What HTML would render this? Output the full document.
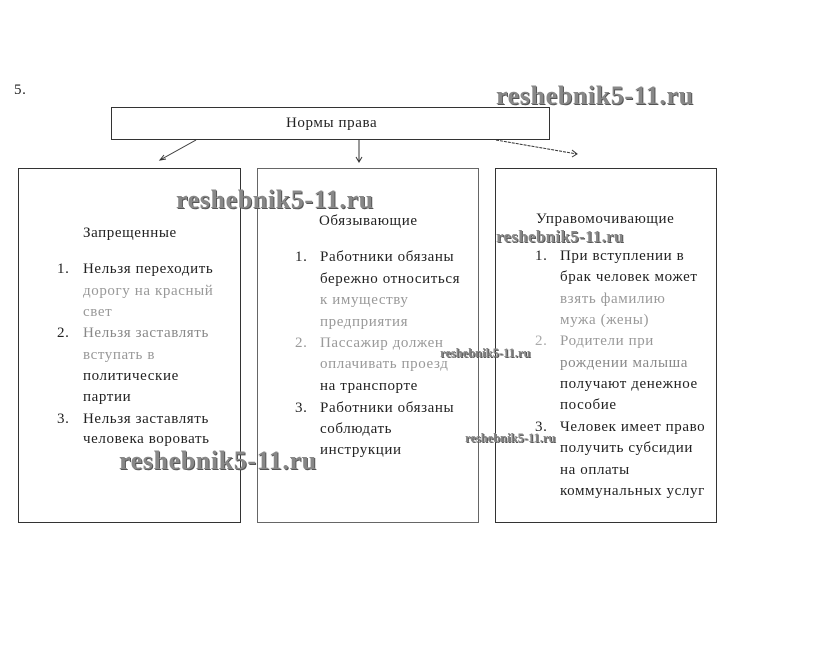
<!DOCTYPE html>
<html><head><meta charset="utf-8"><style>
body{margin:0;width:819px;height:657px;background:#fff;position:relative;overflow:hidden;font-family:"Liberation Serif",serif;color:#222}
.b{position:absolute;border:1px solid #333;box-sizing:border-box}
.t{position:absolute;font-size:15px;white-space:nowrap;letter-spacing:0.6px;line-height:16px}
.w{position:absolute;font-family:"Liberation Serif",serif;font-weight:bold;color:#888;white-space:nowrap;text-shadow:1px 1px 0 #555;line-height:1}
</style></head><body>
<div class="t" style="left:14px;top:82px">5.</div>
<div class="b" style="left:111px;top:107px;width:439px;height:33px"></div>
<div class="t" style="left:286px;top:115px">Нормы права</div>
<div class="b" style="left:18px;top:168px;width:223px;height:355px"></div>
<div class="b" style="left:257px;top:168px;width:222px;height:355px;border-color:#666"></div>
<div class="b" style="left:495px;top:168px;width:222px;height:355px"></div>
<svg style="position:absolute;left:0;top:0" width="819" height="657">
<g stroke="#333" stroke-width="1" fill="none">
<line x1="196" y1="140" x2="160" y2="160"/><polyline points="164,155 160,160 166,159"/>
<line x1="359" y1="140" x2="359" y2="162"/><polyline points="356,157 359,162 362,157"/>
<line x1="496" y1="140" x2="577" y2="154" stroke-dasharray="3,1"/><polyline points="572,150 577,154 572,157"/>
</g></svg>
<div class="t" style="left:83px;top:225px">Запрещенные</div>
<div class="t" style="left:57px;top:261px">1.</div>
<div class="t" style="left:83px;top:261px">Нельзя переходить</div>
<div class="t" style="left:83px;top:283px;color:#999">дорогу на красный</div>
<div class="t" style="left:83px;top:304px;color:#999">свет</div>
<div class="t" style="left:57px;top:325px">2.</div>
<div class="t" style="left:83px;top:325px;color:#888">Нельзя заставлять</div>
<div class="t" style="left:83px;top:347px;color:#999">вступать в</div>
<div class="t" style="left:83px;top:368px">политические</div>
<div class="t" style="left:83px;top:389px">партии</div>
<div class="t" style="left:57px;top:411px">3.</div>
<div class="t" style="left:83px;top:411px">Нельзя заставлять</div>
<div class="t" style="left:83px;top:431px">человека воровать</div>

<div class="t" style="left:319px;top:213px">Обязывающие</div>
<div class="t" style="left:295px;top:249px">1.</div>
<div class="t" style="left:320px;top:249px">Работники обязаны</div>
<div class="t" style="left:320px;top:271px">бережно относиться</div>
<div class="t" style="left:320px;top:292px;color:#999">к имуществу</div>
<div class="t" style="left:320px;top:314px;color:#999">предприятия</div>
<div class="t" style="left:295px;top:335px;color:#999">2.</div>
<div class="t" style="left:320px;top:335px;color:#999">Пассажир должен</div>
<div class="t" style="left:320px;top:356px;color:#999">оплачивать проезд</div>
<div class="t" style="left:320px;top:378px">на транспорте</div>
<div class="t" style="left:295px;top:400px">3.</div>
<div class="t" style="left:320px;top:400px">Работники обязаны</div>
<div class="t" style="left:320px;top:421px">соблюдать</div>
<div class="t" style="left:320px;top:442px">инструкции</div>

<div class="t" style="left:536px;top:211px">Управомочивающие</div>
<div class="t" style="left:535px;top:248px">1.</div>
<div class="t" style="left:560px;top:248px">При вступлении в</div>
<div class="t" style="left:560px;top:269px">брак человек может</div>
<div class="t" style="left:560px;top:291px;color:#999">взять фамилию</div>
<div class="t" style="left:560px;top:312px;color:#999">мужа (жены)</div>
<div class="t" style="left:535px;top:333px;color:#aaa">2.</div>
<div class="t" style="left:560px;top:333px;color:#999">Родители при</div>
<div class="t" style="left:560px;top:355px;color:#888">рождении малыша</div>
<div class="t" style="left:560px;top:376px">получают денежное</div>
<div class="t" style="left:560px;top:397px">пособие</div>
<div class="t" style="left:535px;top:419px">3.</div>
<div class="t" style="left:560px;top:419px">Человек имеет право</div>
<div class="t" style="left:560px;top:440px">получить субсидии</div>
<div class="t" style="left:560px;top:462px">на оплаты</div>
<div class="t" style="left:560px;top:483px">коммунальных услуг</div>

<div class="w" style="left:496px;top:83px;font-size:26px;letter-spacing:0.6px">reshebnik5-11.ru</div>
<div class="w" style="left:176px;top:187px;font-size:26px;letter-spacing:0.6px">reshebnik5-11.ru</div>
<div class="w" style="left:119px;top:448px;font-size:26px;letter-spacing:0.6px">reshebnik5-11.ru</div>
<div class="w" style="left:496px;top:228px;font-size:17px;letter-spacing:0.3px">reshebnik5-11.ru</div>
<div class="w" style="left:440px;top:347px;font-size:12.5px">reshebnik5-11.ru</div>
<div class="w" style="left:465px;top:432px;font-size:12.5px">reshebnik5-11.ru</div>
</body></html>
